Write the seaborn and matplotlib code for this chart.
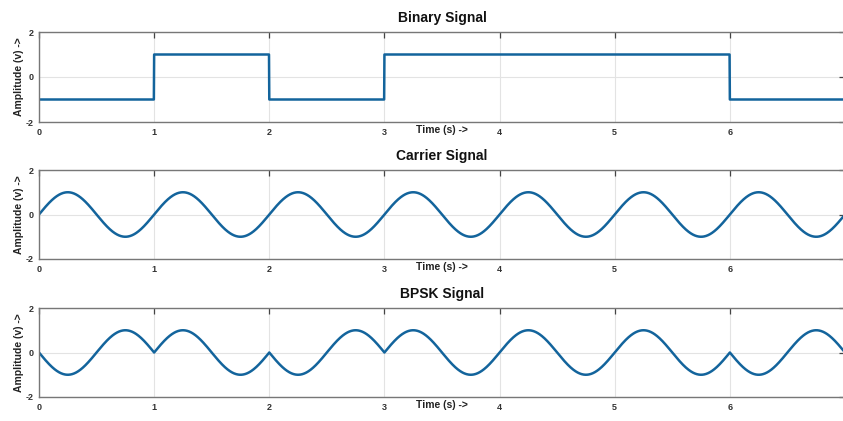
import numpy as np
import pandas as pd
import matplotlib
matplotlib.use("Agg")
import matplotlib.pyplot as plt
import seaborn as sns

# ---- data ----
bits = [-1, 1, -1, 1, 1, 1, -1]          # one bit per second
bit_duration = 1.0                         # s
carrier_freq = 1.0                         # Hz
carrier_amp = 1.0
samples_per_bit = 400
titles = ["Binary Signal", "Carrier Signal", "BPSK Signal"]
x_ticks = [0, 1, 2, 3, 4, 5, 6, 7]
x_tick_labels = ["0", "1", "2", "3", "4", "5", "6", ""]
y_ticks = [-2, 0, 2]
x_label = "Time (s) ->"
y_label = "Amplitude (v) ->"

# ---- build the series ----
n = len(bits) * samples_per_bit
t = np.arange(n) * bit_duration / samples_per_bit
binary = np.repeat(bits, samples_per_bit).astype(float)
carrier = carrier_amp * np.sin(2 * np.pi * carrier_freq * t)
bpsk = binary * carrier

frames = [pd.DataFrame({"t": t, "v": y}) for y in (binary, carrier, bpsk)]

sns.set_style("white")
plt.rcParams["font.family"] = ["Liberation Sans", "DejaVu Sans"]
plt.rcParams["font.weight"] = "bold"
plt.rcParams["axes.unicode_minus"] = False

W, H = 843, 421
fig = plt.figure(figsize=(W / 100, H / 100), dpi=100)
fig.patch.set_facecolor("white")

# axes boxes in pixels: (top, bottom)
boxes = [(32, 122), (170, 259), (308, 397)]
left_px, right_px = 39, 845
line_color = "#13649c"

for (top, bot), df, title in zip(boxes, frames, titles):
    ax = fig.add_axes([left_px / W, 1 - bot / H, (right_px - left_px) / W, (bot - top) / H])
    sns.lineplot(data=df, x="t", y="v", ax=ax, color=line_color, linewidth=1.8,
                 estimator=None, sort=False)
    ax.set_xlim(0, 7)
    ax.set_ylim(-2, 2)
    ax.set_xticks(x_ticks)
    ax.set_xticklabels(x_tick_labels)
    ax.set_yticks(y_ticks)
    ax.grid(True, color="#e3e3e3", linewidth=0.8)
    ax.set_axisbelow(True)
    ax.tick_params(axis="both", direction="in", length=4, width=0.9, color="#444444",
                   labelsize=6.5, pad=4, top=True, right=True, labelcolor="#333333")
    for lab in ax.get_xticklabels() + ax.get_yticklabels():
        lab.set_fontweight("bold")
    for s in ax.spines.values():
        s.set_color("#777777")
        s.set_linewidth(1.0)
    ax.set_title(title, fontsize=10, fontweight="bold", pad=7, color="#111111")
    ax.set_xlabel(x_label, fontsize=7.5, fontweight="bold", labelpad=-8, color="#222222")
    ax.set_ylabel(y_label, fontsize=7.5, fontweight="bold", labelpad=1, color="#222222")

fig.savefig("out.png", dpi=100, facecolor="white")
